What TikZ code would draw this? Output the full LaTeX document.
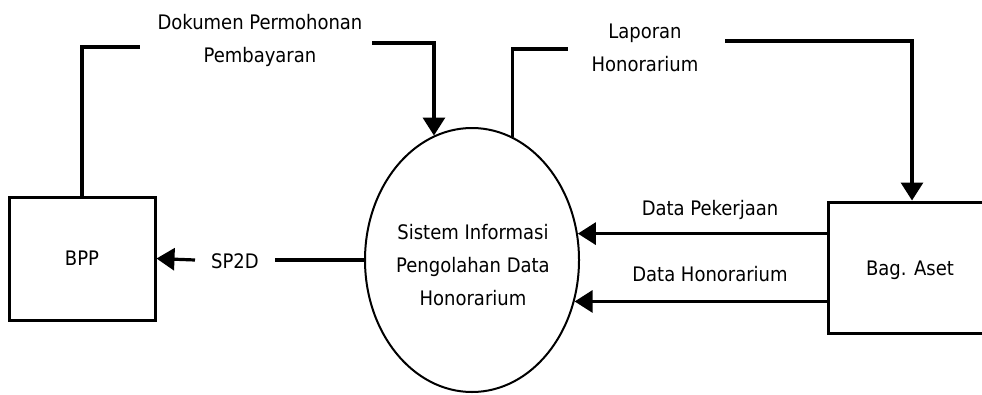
\documentclass[tikz,border=0pt]{standalone}
\usepackage{fontspec}
\setmainfont{DejaVu Sans Condensed}
\usetikzlibrary{shapes,arrows.meta,positioning}

\begin{document}
\begin{tikzpicture}[x=1pt,y=-1pt,% pixel-like units, y grows downwards
      every node/.style={
        align=center,  % so that "\\" breaks the line
        font=\fontsize{20}{33}\selectfont
      },
      entity/.style={rectangle,draw=black,line width=3pt,minimum width=146pt,minimum height=123pt},
      process/.style={ellipse,draw=black,line width=2pt,minimum width=214pt,minimum height=264pt},
      flow/.style={draw,line width=3.2pt},
      arrowflow/.style={flow,-{Triangle[length=18pt,width=22pt]}}
    ]
    \useasboundingbox (0,0) rectangle (982,394);

    \node[entity](bpp) at (82,258.5){BPP};
    \node[entity,minimum width=168pt,minimum height=131pt](aset) at (912,267.5){};
    \node(asettxt) at (910,270){Bag. Aset};
    \node[process](sys) at (472,260){};
    \node(systxt) at (473,265){Sistem Informasi\\Pengolahan Data\\Honorarium};

    \node(dok) at (260,40.5){Dokumen Permohonan\\Pembayaran};
    \node(lap) at (645,48){Laporan\\Honorarium};
    \node(sp2d) at (235,261){SP2D};
    \node(pek) at (710,210){Data Pekerjaan};
    \node(hon) at (710,274){Data Honorarium};

    \coordinate (dokL) at (140,47);
    \coordinate (dokR) at (372,43);
    \coordinate (lapL) at (568,49);
    \coordinate (lapR) at (725,41);
    \coordinate (sp2dL) at (195,260);
    \coordinate (sp2dR) at (275,260);

    % BPP -> sistem
    \draw[flow] (bpp.north) |- (dokL);
    \draw[arrowflow] (dokR) -| (sys.107.6);
    % sistem -> Bag. Aset
    \draw[flow] (sys.72) |- (lapL);
    \draw[arrowflow] (lapR) -| (aset.north);
    % sistem -> BPP
    \draw[flow] (sys.west) -- (sp2dR);
    \draw[arrowflow] (sp2dL) -- (bpp.east);
    % Bag. Aset -> sistem
    \draw[arrowflow] (sys.14 -| aset.west) -- (sys.14);
    \draw[arrowflow] (sys.-22 -| aset.west) -- (sys.-22);
  \end{tikzpicture}
\end{document}
